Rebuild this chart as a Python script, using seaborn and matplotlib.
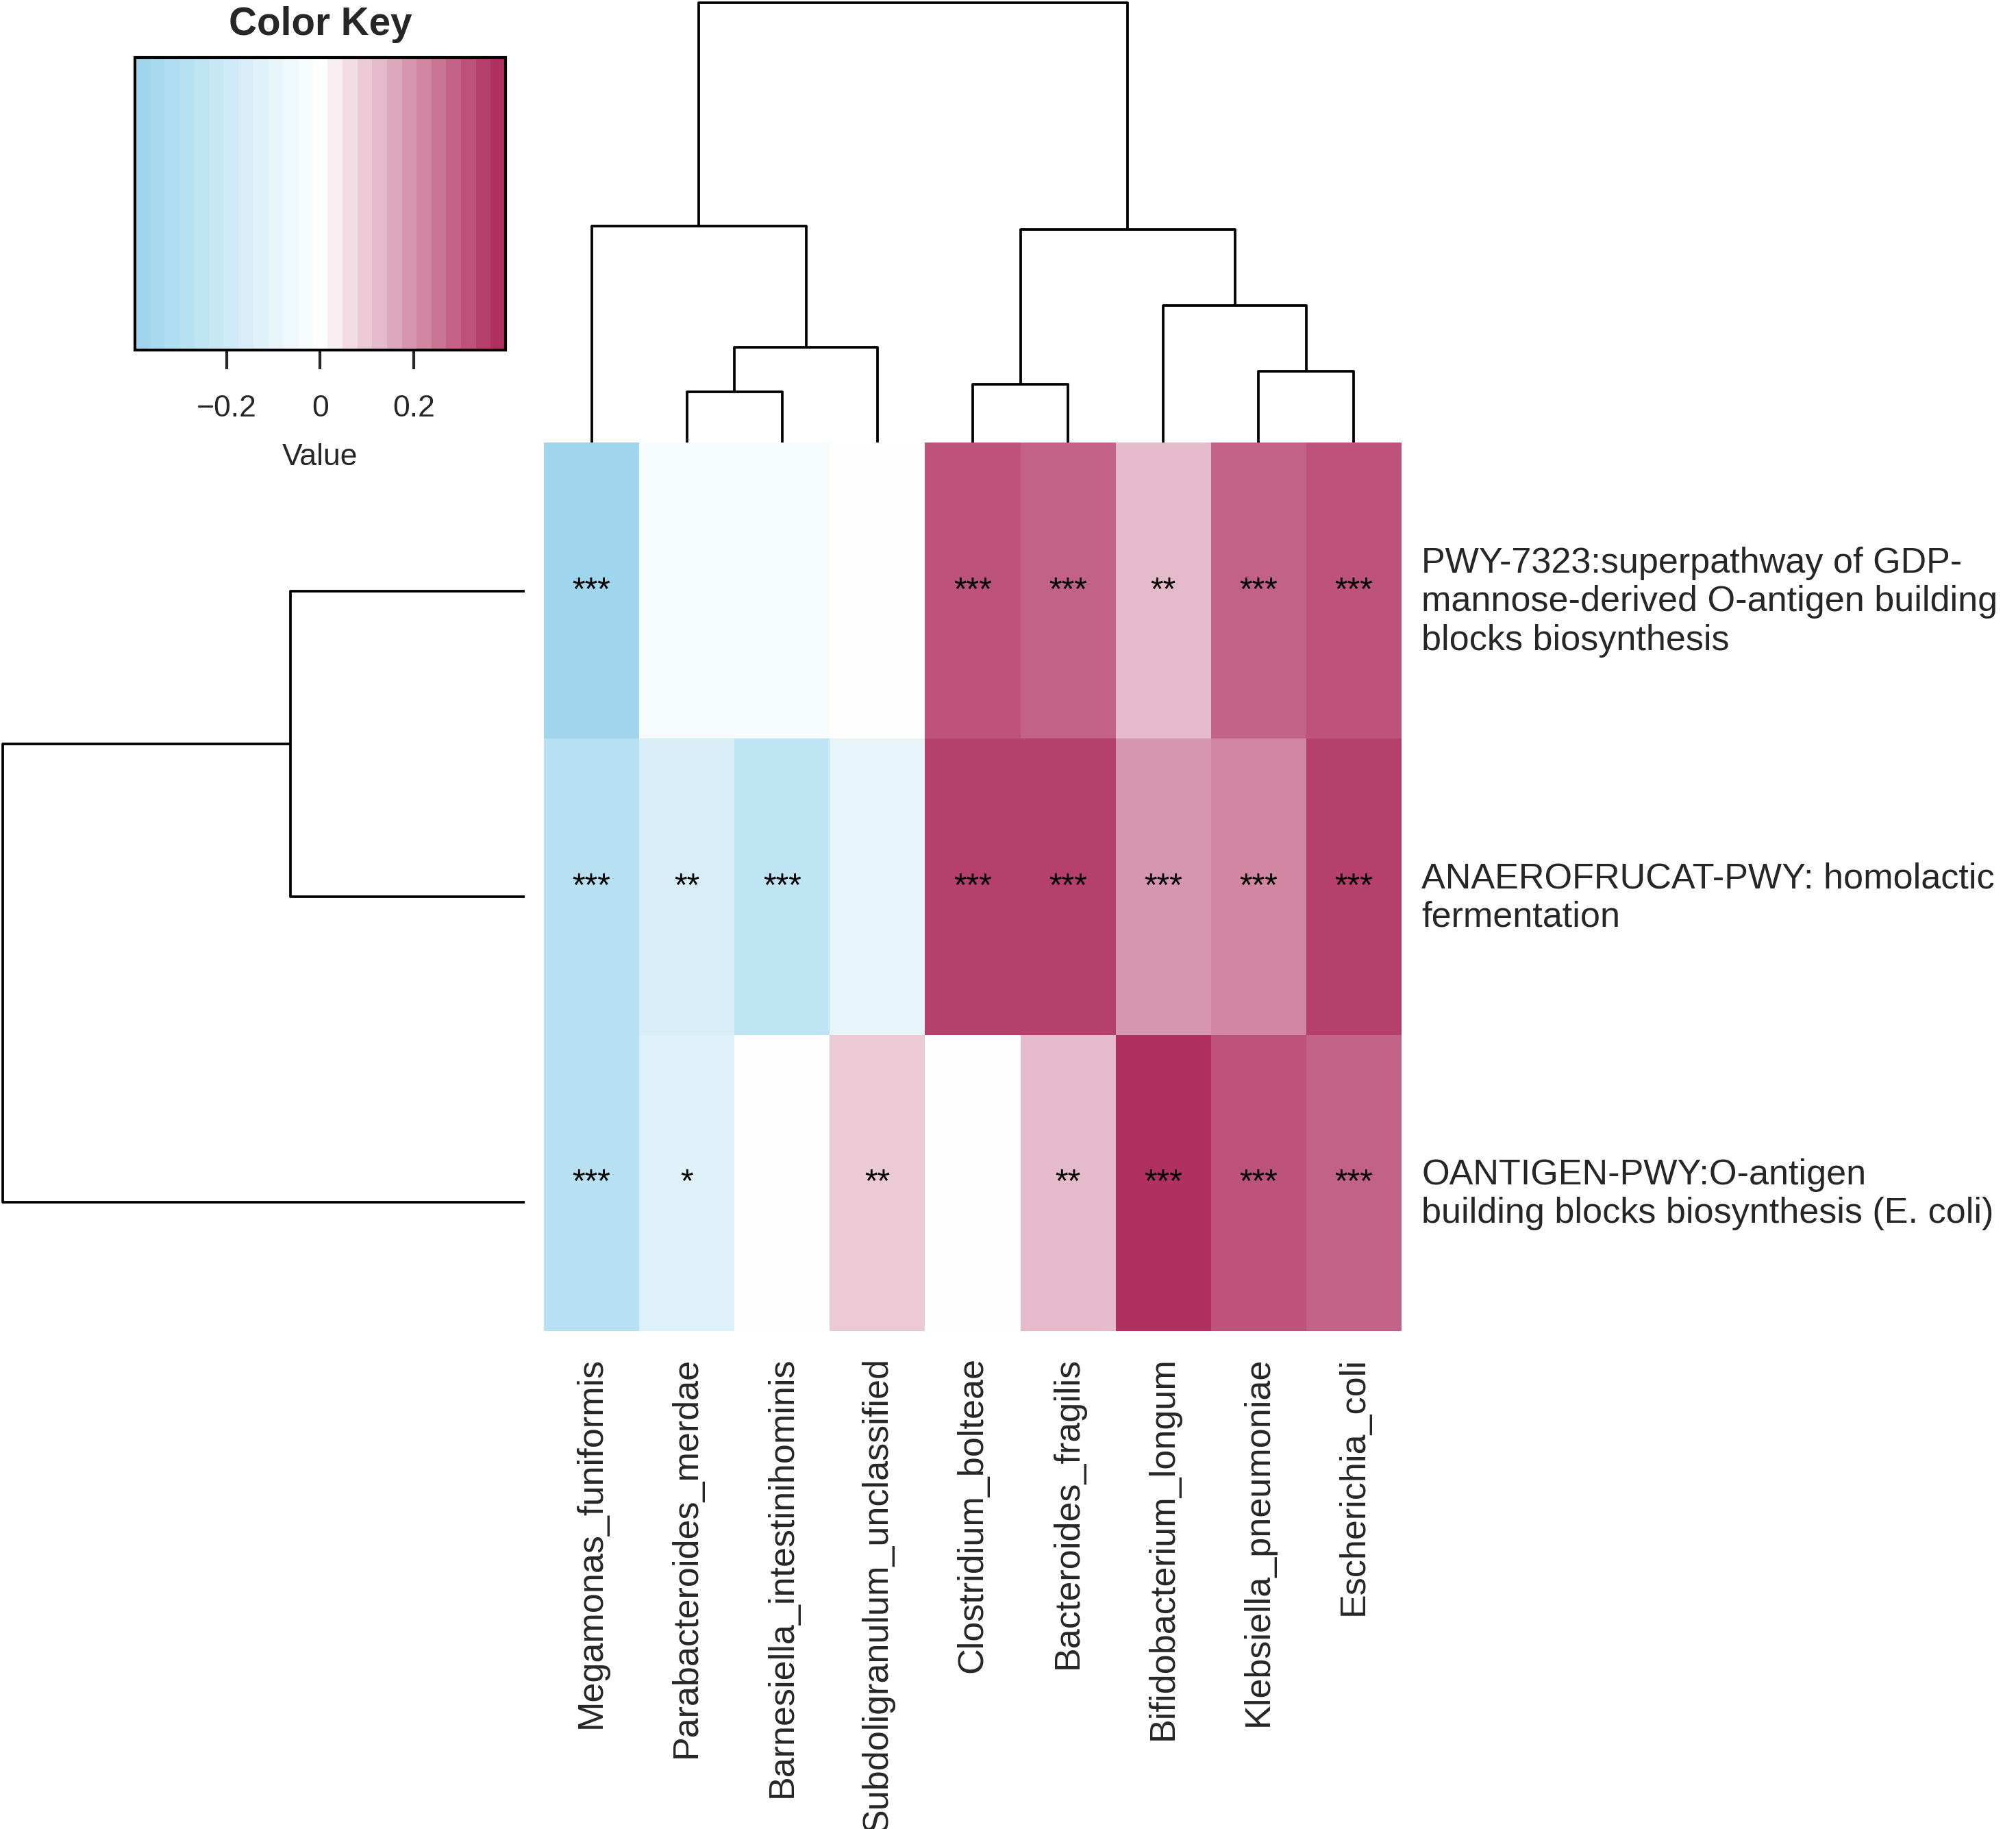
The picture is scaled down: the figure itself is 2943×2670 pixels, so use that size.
import numpy as np
import pandas as pd
import matplotlib
matplotlib.use("Agg")
import matplotlib.pyplot as plt
from matplotlib.colors import LinearSegmentedColormap, ListedColormap
import seaborn as sns

# ---- data ----
species = ["Megamonas_funiformis", "Parabacteroides_merdae", "Barnesiella_intestinihominis",
           "Subdoligranulum_unclassified", "Clostridium_bolteae", "Bacteroides_fragilis",
           "Bifidobacterium_longum", "Klebsiella_pneumoniae", "Escherichia_coli"]
pathways = ["PWY-7323:superpathway of GDP-\nmannose-derived O-antigen building\nblocks biosynthesis",
            "ANAEROFRUCAT-PWY: homolactic\nfermentation",
            "OANTIGEN-PWY:O-antigen\nbuilding blocks biosynthesis (E. coli)"]

vals_pwy7323 = [-0.37, -0.03, -0.03, -0.005, 0.33, 0.27, 0.135, 0.27, 0.33]
vals_anaero  = [-0.29, -0.17, -0.25, -0.09, 0.36, 0.36, 0.20, 0.23, 0.36]
vals_oantig  = [-0.29, -0.13, 0.005, 0.10, 0.0, 0.14, 0.39, 0.33, 0.27]

stars_pwy7323 = ["***", "", "", "", "***", "***", "**", "***", "***"]
stars_anaero  = ["***", "**", "***", "", "***", "***", "***", "***", "***"]
stars_oantig  = ["***", "*", "", "**", "", "**", "***", "***", "***"]

# dendrograms: (left, right, merge height), leaves are column / row indices
col_tree = ((0, ((1, 2, 0.29), 3, 0.54), 1.23),
            ((4, 5, 0.33), (6, (7, 8, 0.405), 0.78), 1.21), 2.5)
row_tree = ((0, 1, 0.62), 2, 1.38)

key_ticks = [-0.2, 0, 0.2]
vlim = 0.395

# ---- setup ----
W, H, DPI = 2943, 2670, 300
sns.set_style("white")
plt.rcParams["font.family"] = ["Liberation Sans", "DejaVu Sans"]

df = pd.DataFrame([vals_pwy7323, vals_anaero, vals_oantig], index=pathways, columns=species)
stars = np.array([stars_pwy7323, stars_anaero, stars_oantig])

base = LinearSegmentedColormap.from_list("bw_maroon", ["#9FD6EE", "#FFFFFF", "#B03060"])
cmap = ListedColormap(base(np.linspace(0, 1, 25)))

fig = plt.figure(figsize=(W / DPI, H / DPI), dpi=DPI)


def px_axes(x0, y0, x1, y1):
    # pixel box (top-left origin) -> figure axes
    return fig.add_axes([x0 / W, 1 - y1 / H, (x1 - x0) / W, (y1 - y0) / H])


ax_hm = px_axes(794, 646, 2046, 1943)
ax_col = px_axes(794, 4, 2046, 646)
ax_row = px_axes(4, 640, 766, 1978)
ax_key = px_axes(197, 84, 738, 511)

sns.heatmap(df, ax=ax_hm, cmap=cmap, vmin=-vlim, vmax=vlim,
            annot=stars, fmt="", annot_kws={"color": "black", "fontsize": 11.5},
            cbar=True, cbar_ax=ax_key, cbar_kws={"orientation": "horizontal", "ticks": key_ticks},
            xticklabels=species, yticklabels=False)

ax_hm.tick_params(axis="x", length=0, pad=9)
ax_hm.set_xticklabels(species, rotation=90, fontsize=12.5)
ax_hm.set_xlabel("")
ax_hm.set_ylabel("")

for i, lab in enumerate(pathways):
    ax_hm.annotate(lab, xy=(len(species), i + 0.5), xytext=(7, -4), textcoords="offset points",
                   ha="left", va="center", fontsize=12.5, annotation_clip=False)


def draw_tree(ax, node, orient):
    if isinstance(node, int):
        return node + 0.5, 0.0
    left, right, h = node
    p1, h1 = draw_tree(ax, left, orient)
    p2, h2 = draw_tree(ax, right, orient)
    pos = [p1, p1, p2, p2]
    hts = [h1, h, h, h2]
    if orient == "top":
        ax.plot(pos, hts, color="black", lw=0.9, solid_capstyle="butt", clip_on=False)
    else:
        ax.plot(hts, pos, color="black", lw=0.9, solid_capstyle="butt", clip_on=False)
    return (p1 + p2) / 2, h


draw_tree(ax_col, col_tree, "top")
ax_col.set_xlim(0, len(species))
ax_col.set_ylim(0, col_tree[2])
ax_col.axis("off")

draw_tree(ax_row, row_tree, "left")
ax_row.set_ylim(len(pathways), 0)
ax_row.set_xlim(row_tree[2], 0)
ax_row.axis("off")

# colour key
cb = ax_hm.collections[0].colorbar
cb.outline.set_linewidth(1.0)
cb.outline.set_edgecolor("black")
cb.set_ticks(key_ticks)
cb.set_ticklabels(["\u22120.2", "0", "0.2"])
cb.ax.minorticks_off()
cb.ax.tick_params(length=6.7, width=1.0, labelsize=10.7, pad=9, direction="out")
cb.set_label("Value", fontsize=10.7, labelpad=7)
ax_key.set_title("Color Key", fontsize=13.6, fontweight="bold", pad=8)

fig.savefig("out.png", dpi=DPI)
